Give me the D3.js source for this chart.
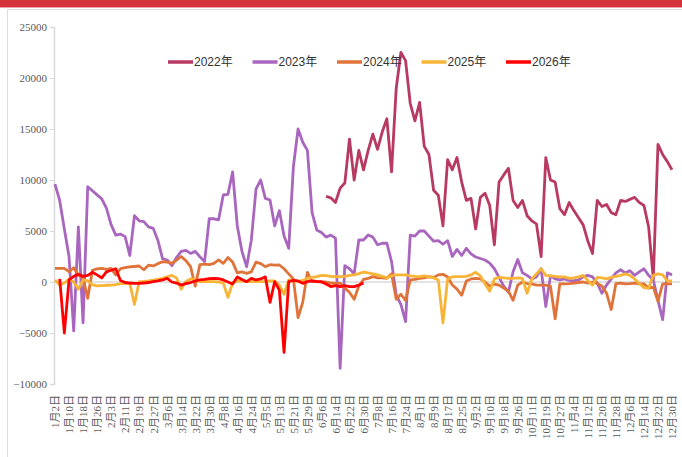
<!DOCTYPE html>
<html>
<head>
<meta charset="utf-8">
<script src="https://cdn.jsdelivr.net/npm/d3@7"></script>
<style>
  body { margin: 0; background: #fff; }
</style>
</head>
<body>
<div id="chart"></div>
<script>
// tick labels on the category axis, one every 3 data points
const dateLabels = ["1月2日","1月10日","1月18日","1月26日","2月3日","2月11日","2月19日","2月27日",
  "3月6日","3月14日","3月22日","3月30日","4月8日","4月16日","4月24日","5月5日","5月13日",
  "5月21日","5月29日","6月6日","6月14日","6月22日","6月30日","7月8日","7月16日","7月24日",
  "8月1日","8月9日","8月17日","8月25日","9月2日","9月10日","9月18日","9月26日","10月11日",
  "10月19日","10月27日","11月4日","11月12日","11月20日","11月28日","12月6日","12月14日",
  "12月22日","12月30日"];
const stepsPerLabel = 3;
const yTicks = [-10000, -5000, 0, 5000, 10000, 15000, 20000, 25000];

// series values (index = data point on the category axis)
const start2022 = 58;
const s2022 = [8400,8250,7800,9200,9700,14000,10000,12900,11000,12900,
  14500,13000,14700,16000,10800,19000,22500,21700,17500,15800,
  17600,13300,12500,9000,8500,5500,12000,11000,12200,9800,
  8000,8200,5200,8300,8700,7500,3650,9800,10500,11150,
  8000,7300,8000,6500,6000,5700,2500,12200,10000,9800,
  7200,6600,7800,7000,6300,5600,4000,2800,8000,7400,
  7600,6800,6600,8000,7900,8100,8300,7800,7500,5400,
  300,13500,12500,11800,11000];

const start2023 = 0;
const s2023 = [9600,8000,5200,2500,-4800,5400,-4000,9340,8940,8540,
  8150,7240,5620,4600,4700,4450,2600,6500,6000,5920,
  5400,5260,4100,2300,2160,1600,2400,3000,3100,2800,
  3000,2480,2000,6200,6200,6100,8530,8600,10800,5500,
  3000,1500,4100,9100,10000,8200,8040,5500,7000,4500,
  3300,11300,15000,13700,12900,6800,5100,4850,4400,4600,
  4300,-8460,1600,1300,800,4120,4120,4610,4400,3650,
  3800,3800,2000,-1300,-2200,-3890,4600,4500,5000,5000,
  4500,4000,4050,3700,4050,2500,3200,2600,3300,2750,
  2450,2300,2160,1850,1300,450,-400,-1000,1000,2200,
  900,650,300,500,1300,-2400,600,300,200,300,
  160,100,200,500,650,500,-100,-1100,-300,300,
  900,1200,900,1100,650,1000,1300,650,200,-1800,
  -3700,900,700];

const start2024 = 0;
const s2024 = [1340,1340,1340,1010,1400,700,400,-1600,1150,1280,
  1340,1240,1340,700,1300,1400,1480,1520,1570,1200,
  1650,1570,1800,1990,1950,1830,2150,2500,2100,1500,
  -400,1700,1750,1700,1830,2160,1830,2400,1950,900,
  1000,850,1000,1950,1800,1500,1700,1650,1670,1300,
  800,300,-3500,-2000,950,30,30,0,0,-100,
  -130,-130,-600,-1000,-1700,-400,250,360,520,400,
  400,360,800,-1700,-1200,-1800,200,250,360,400,
  520,450,700,750,500,-300,-700,-1300,100,300,
  350,300,0,-400,-200,-300,-600,-900,-1800,-300,
  0,-150,-180,-300,-300,-300,-400,-3600,-180,-180,
  -150,-100,-50,0,-100,0,-150,-400,-1100,-2700,
  -150,-100,-180,-150,-100,-180,-180,-600,-500,-1900,
  -180,-180,-180];

const start2025 = 0;
const s2025 = [200,-300,-100,300,0,-700,200,100,-250,-380,
  -350,-320,-300,-250,-150,-130,-130,-2200,30,50,
  100,180,250,350,500,650,400,-700,50,300,
  250,50,50,50,30,0,-100,-1500,-100,100,
  100,30,30,30,30,30,100,100,-300,-1200,
  200,150,30,150,360,450,520,650,620,550,
  520,520,560,640,700,820,980,900,800,700,
  560,400,600,690,690,690,600,550,520,600,
  500,400,200,-4000,300,500,520,520,550,700,
  950,600,-200,-900,300,450,400,350,350,400,
  350,-1100,300,800,1300,650,600,550,500,500,
  350,400,500,650,150,-300,450,400,300,450,
  550,650,800,650,300,-150,-550,-600,650,800,
  700,100,100];

const start2026 = 1;
const s2026 = [300,-5000,200,550,750,550,650,950,700,
  400,1000,1150,1300,150,-50,-100,-130,-130,-100,
  -50,30,100,200,360,0,-100,-300,-150,-50,
  100,200,250,330,350,330,200,0,-200,500,
  250,30,350,200,300,500,-2000,30,-800,-6900,
  30,150,100,-130,30,100,50,30,-200,-450,
  -350,-450,-350,-450,-450,-300,-100];

const seriesNames = ["2022年","2023年","2024年","2025年","2026年"];
const seriesColors = ["#b83a62","#a966bf","#e0733a","#f8b436","#ff0000"];
const seriesData = [[start2022, s2022],[start2023, s2023],[start2024, s2024],[start2025, s2025],[start2026, s2026]];

const width = 682, height = 457;
const svg = d3.select("#chart").append("svg")
  .attr("width", width).attr("height", height);

// page frame: red banner and thin border
svg.append("rect").attr("x", 0).attr("y", 0).attr("width", width).attr("height", 7).attr("fill", "#d5333b");
svg.append("rect").attr("x", 0).attr("y", 7).attr("width", width).attr("height", 1).attr("fill", "#eba0a3");
svg.append("line").attr("x1", 7).attr("x2", width).attr("y1", 9.5).attr("y2", 9.5)
  .attr("stroke", "#dcdcdc").attr("stroke-width", 1);
svg.append("line").attr("x1", 7.5).attr("x2", 7.5).attr("y1", 9).attr("y2", height)
  .attr("stroke", "#dcdcdc").attr("stroke-width", 1);

const nPoints = (dateLabels.length - 1) * stepsPerLabel + 1;
const x = d3.scaleLinear().domain([0, nPoints - 1]).range([55, 672]);
const y = d3.scaleLinear().domain([-10000, 25000]).range([384, 27]);

// y axis
const yAxis = svg.append("g")
  .attr("transform", "translate(54,0)")
  .call(d3.axisLeft(y).tickValues(yTicks).tickSize(4).tickPadding(3).tickFormat(d3.format("d")));
yAxis.select(".domain").attr("stroke", "#d9d9d9").attr("stroke-width", 1.5);
yAxis.selectAll(".tick line").attr("stroke", "#d9d9d9");
yAxis.selectAll("text").attr("fill", "#595959")
  .style("font-family", "'Liberation Serif', 'Times New Roman', serif").style("font-size", "11px");

// zero line
svg.append("line")
  .attr("x1", 54).attr("x2", 680)
  .attr("y1", y(0)).attr("y2", y(0))
  .attr("stroke", "#d9d9d9").attr("stroke-width", 1.5);

// x axis labels, rotated
const xAxis = svg.append("g")
  .attr("transform", "translate(0,392)")
  .call(d3.axisBottom(x)
    .tickValues(dateLabels.map((d, i) => i * stepsPerLabel))
    .tickFormat((d, i) => dateLabels[i])
    .tickSize(0));
xAxis.select(".domain").remove();
xAxis.selectAll("text")
  .attr("fill", "#595959")
  .style("font-family", "'Liberation Serif', 'Noto Sans CJK SC', serif")
  .style("font-size", "11px")
  .attr("text-anchor", "end")
  .attr("dy", "0.35em")
  .attr("transform", "rotate(-90)")
  .attr("x", -3)
  .attr("y", 0);

// lines
const line = d3.line()
  .defined(d => d[1] != null)
  .x(d => x(d[0]))
  .y(d => y(d[1]));

seriesData.forEach(function (s, i) {
  const pts = s[1].map((v, j) => [s[0] + j, v]);
  svg.append("path")
    .datum(pts)
    .attr("fill", "none")
    .attr("stroke", seriesColors[i])
    .attr("stroke-width", 2.8)
    .attr("stroke-linejoin", "round")
    .attr("d", line);
});

// legend
const legend = svg.append("g").attr("transform", "translate(168,62)");
seriesNames.forEach(function (name, i) {
  const g = legend.append("g").attr("transform", "translate(" + (i * 84.5) + ",0)");
  g.append("line").attr("x1", 0).attr("x2", 25).attr("y1", 0).attr("y2", 0)
    .attr("stroke", seriesColors[i]).attr("stroke-width", 3.5);
  g.append("text").attr("x", 26).attr("y", 0).attr("dy", "0.35em")
    .attr("fill", "#333")
    .style("font-family", "'Liberation Sans Narrow', 'Liberation Sans', 'Noto Sans CJK SC', sans-serif")
    .style("font-size", "12px")
    .text(name);
});
</script>
</body>
</html>
